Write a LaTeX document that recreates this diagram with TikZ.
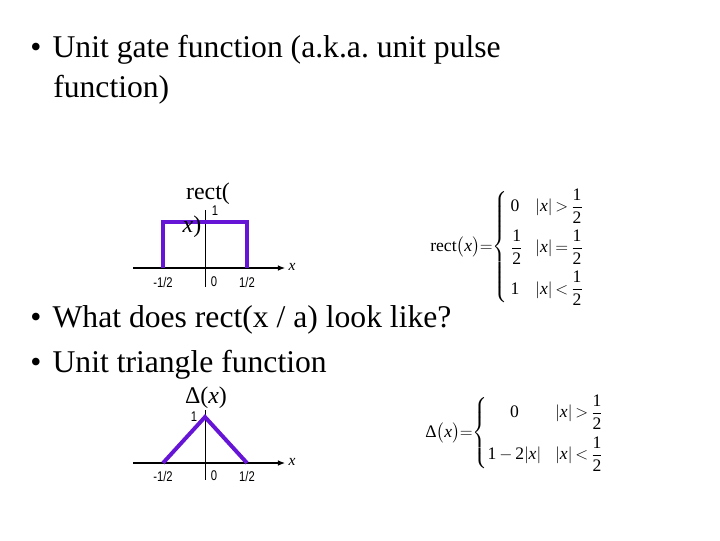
\documentclass[tikz,border=0pt]{standalone}
\usepackage{amsmath}
\usepackage{fontspec}
\setmainfont{Liberation Serif}
\newfontfamily\labelfont[FakeStretch=0.8]{Liberation Sans}
\usetikzlibrary{arrows.meta}
\definecolor{pulsecol}{RGB}{102,20,214}
\newcommand{\xv}{\textit{x}}
\newcommand{\half}{\dfrac{\text{1}}{\text{2}}}
\newcommand{\tightmath}{\thickmuskip=3mu \medmuskip=2mu\relax}
\frenchspacing

\begin{document}
\begin{tikzpicture}[
    x=0.025cm, y=-0.025cm,
    bullettext/.style={
        anchor=base west,
        inner sep=0pt,
        font=\fontsize{22.5}{27}\selectfont
    },
    ticklabel/.style={
        inner sep=0pt,
        font=\labelfont\fontsize{10}{12}\selectfont
    },
    plotlabel/.style={
        inner sep=0pt,
        font=\fontsize{17}{20}\selectfont
    },
    formula/.style={
        anchor=west,
        inner sep=0pt,
        font=\fontsize{12.5}{15}\selectfont
    },
    axis/.style={-{Latex[length=5pt,width=4pt]}, thick},
    yaxis/.style={thin},
    pulse/.style={draw=pulsecol, line width=2.8pt, line join=miter}
]

\useasboundingbox (0,0) rectangle (720,540);

% bullet lines
\node[bullettext] (gate) at (30,57) {\textbullet\hspace{8pt}Unit gate function (a.k.a. unit pulse};
\node[bullettext] (gatecont) at (53,97) {function)};
\node[bullettext] (scaled) at (30,327) {\textbullet\hspace{8pt}What does rect(x / a) look like?};
\node[bullettext] (tri) at (30,372) {\textbullet\hspace{8pt}Unit triangle function};

% rect plot
\coordinate (rxs) at (133,268);
\coordinate (rxe) at (285,268);
\coordinate (rys) at (205,210);
\coordinate (rye) at (205,287);
\draw[axis] (rxs) -- (rxe);
\draw[yaxis] (rys) -- (rye);
\draw[pulse] (163,268) -- (163,222) -- (247,222) -- (247,268);

\node[plotlabel] (recttop) at (208,194) {rect(};
\node[plotlabel] (rectbot) at (192,227) {\xv)};
\node[ticklabel] (rone) at (215,211) {1};
\node[ticklabel] (rleft) at (163,282) {-1/2};
\node[ticklabel] (rzero) at (214,282) {0};
\node[ticklabel] (rright) at (247,282) {1/2};
\node[ticklabel, font=\fontsize{11}{12}\selectfont] (rx) at (292,267) {\xv};

% rect definition
\node[formula] (rectdef) at (430,247) {$\tightmath\text{rect}\bigl(\xv\bigr)\!=\!
  \left\{\begin{array}{@{\,}l@{\hspace{9pt}}l}
    \text{0} & |\xv| > \half\\[8.5pt]
    \half & |\xv| = \half\\[8.5pt]
    \text{1} & |\xv| < \half
  \end{array}\right.$};

% triangle plot
\coordinate (txs) at (133,463);
\coordinate (txe) at (285,463);
\coordinate (tys) at (205,410);
\coordinate (tye) at (205,480);
\draw[axis] (txs) -- (txe);
\draw[yaxis] (tys) -- (tye);
\draw[pulse] (163,463) -- (205,417) -- (247,463);

\node[plotlabel] (trilbl) at (206,398) {Δ(\xv)};
\node[ticklabel] (tone) at (194,417) {1};
\node[ticklabel] (tleft) at (163,476) {-1/2};
\node[ticklabel] (tzero) at (214,476) {0};
\node[ticklabel] (tright) at (247,476) {1/2};
\node[ticklabel, font=\fontsize{11}{12}\selectfont] (tx) at (292,462) {\xv};

% triangle definition
\node[formula] (tridef) at (425,433) {$\tightmath\text{Δ}\bigl(\xv\bigr)\!=\!
  \left\{\begin{array}{@{}c@{\hspace{10pt}}l}
    \text{0} & |\xv| > \half\\[9pt]
    \text{1}\,{-}\,\text{2}|\xv| & |\xv| < \half
  \end{array}\right.$};

\end{tikzpicture}
\end{document}
